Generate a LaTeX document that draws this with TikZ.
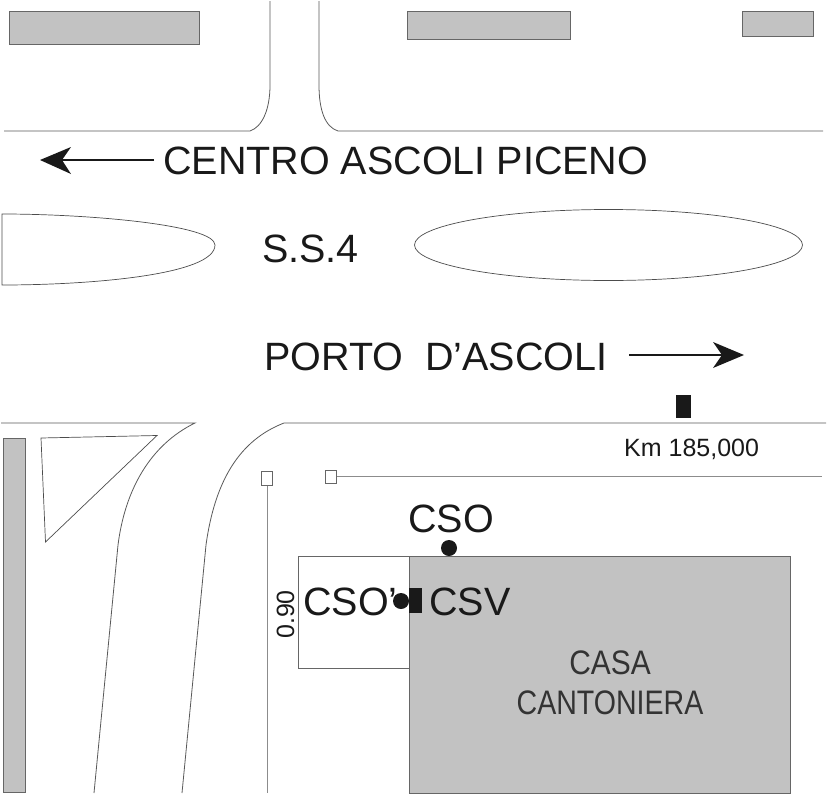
\documentclass[tikz,border=0pt]{standalone}
\usepackage{fontspec}
\setmainfont{Liberation Sans}
\tikzset{
  road/.style={draw=black!65,line width=0.8pt},
  thin road/.style={draw=black!70,line width=0.7pt},
  gray box/.style={draw=black!60,fill=black!24,line width=0.9pt},
  pole/.style={draw=black!45,line width=1pt},
  pole head/.style={draw=black!60,fill=white,line width=0.8pt},
  lab/.style={text=black!90,inner sep=0pt,anchor=base west},
  big/.style={lab,font=\fontsize{39.5}{39.5}\selectfont},
  small/.style={lab,font=\fontsize{25}{25}\selectfont},
  dot/.style={circle,fill=black!90,inner sep=0pt,minimum size=16pt},
  tip/.style={fill=black!90,draw=none}
}
\begin{document}
\begin{tikzpicture}[x=1pt,y=-1pt]
\useasboundingbox (0,0) rectangle (827,795);
% top buildings
\draw[gray box] (9.5,11) rectangle (199.5,44);
\draw[gray box] (407.5,11) rectangle (570.5,39);
\draw[gray box] (742.5,11) rectangle (813.5,36);
% top junction
\draw[road] (4,131) -- (250,131) .. controls (262,127) and (270,110) .. (270,85) -- (270,1);
\draw[road] (319,1) -- (319,85) .. controls (319,110) and (325,127) .. (338,131) -- (823,131);
% traffic islands
\draw[thin road] (2,214) -- (2,285) .. controls (90,285) and (215,275) .. (215,245) .. controls (215,225) and (90,214) .. (2,214) -- cycle;
\draw[thin road] (608.5,245) ellipse [x radius=194,y radius=35.5];
% direction texts
\node[big] (centro) at (163,174) {CENTRO ASCOLI PICENO};
\node[big] (ss) at (262,262) {S.S.4};
\node[big] (porto) at (264,370) {PORTO\ \ D’ASCOLI};
% arrows
\draw[black!90,line width=2.6pt] (154,160) -- (60,160);
\fill[tip] (40,160) -- (71,147) -- (62,160) -- (71,174) -- cycle;
\draw[black!90,line width=2.6pt] (629,355) -- (725,355);
\fill[tip] (744,355) -- (713,342) -- (722,355) -- (713,368) -- cycle;
% lower road edge
\draw[road] (1,423) -- (195,423) .. controls (150,445) and (125,490) .. (118,545) -- (94,793);
\draw[road] (826,423) -- (284,423) .. controls (240,440) and (215,480) .. (206,545) -- (182,793);
% strip and triangle
\draw[gray box] (3.5,438) rectangle (25,792);
\draw[thin road] (41,438) -- (157,435.5) -- (45.5,542) -- cycle;
% km marker
\fill[black!90] (676,395) rectangle (691,418);
\node[small] (km) at (624,456) {Km 185,000};
% poles
\draw[pole] (267,485) -- (267,793);
\draw[pole head] (261.5,471) rectangle (272.5,485);
\draw[pole] (336,476.5) -- (822,476.5);
\draw[pole head] (325,470) rectangle (336,483.5);
% house
\draw[draw=black!60,fill=white,line width=0.9pt] (298.5,556) rectangle (409,668);
\draw[draw=black!60,fill=black!24,line width=1pt] (409,793) -- (409,556) -- (790.5,556) -- (790.5,793) -- cycle;
\node[lab,font=\fontsize{34}{34}\selectfont,anchor=base,xscale=0.88,text=black!80] (casa) at (610,674) {CASA};
\node[lab,font=\fontsize{34}{34}\selectfont,anchor=base,xscale=0.84,text=black!80] (cant) at (610,714) {CANTONIERA};
% labels and points
\node[dot] (cso) at (449,548) {};
\node[big] (t1) at (408,532) {CSO};
\node[big] (t2) at (303,615) {CSO’};
\node[dot] (csop) at (401,601) {};
\fill[black!90] (409,588) rectangle (422,613);
\node[big] (t3) at (429,615) {CSV};
\node[small,rotate=90] (h) at (294,639) {0.90};
\end{tikzpicture}
\end{document}
